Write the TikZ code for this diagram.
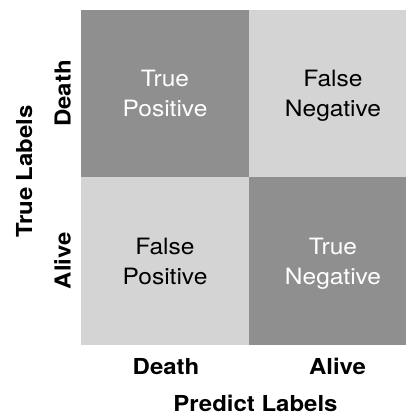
\documentclass[tikz,border=0pt]{standalone}
\usepackage{fontspec}
\setmainfont{TeX Gyre Heros}[FakeStretch=1.09]
\definecolor{cdark}{HTML}{8F8F8F}
\definecolor{clight}{HTML}{D4D4D4}
\begin{document}
\begin{tikzpicture}[x=1pt,y=1pt,
  cell/.style={draw=none,minimum width=168pt,minimum height=167.5pt,inner sep=0pt,outer sep=0pt,
    align=center,font=\fontsize{22.5}{30}\selectfont,text depth=0pt},
  darkcell/.style={cell,fill=cdark,text=white},
  lightcell/.style={cell,fill=clight,text=black},
  axlabel/.style={font=\fontsize{22}{26}\selectfont\bfseries,anchor=base,inner sep=0pt}]
\useasboundingbox (0,0) rectangle (406,-418);
\begin{scope}
\clip (0,0) rectangle (406,-418);
\node[darkcell] (tp) at (165,-93.5) {True\\Positive};
\node[lightcell] (fn) at (333,-93.5) {False\\Negative};
\node[lightcell] (fp) at (165,-261) {False\\Positive};
\node[darkcell] (tn) at (333,-261) {True\\Negative};
\end{scope}
\node[axlabel] (pdeath) at (166,-374) {Death};
\node[axlabel] (palive) at (337.5,-374) {Alive};
\node[axlabel] (plab) at (255.5,-411) {Predict Labels};
\node[axlabel,rotate=90] (tdeath) at (70.7,-93.5) {Death};
\node[axlabel,rotate=90] (talive) at (70.7,-260.6) {Alive};
\node[axlabel,rotate=90] (tlab) at (32,-171.5) {True Labels};
\end{tikzpicture}
\end{document}
